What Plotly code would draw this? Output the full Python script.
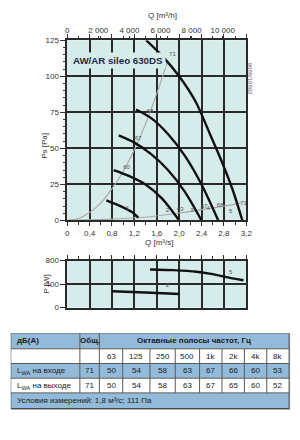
import plotly.graph_objects as go

# ---------------- data ----------------
# fan curves (Q [m3/s], Ps [Pa]) for speed steps 1..5
c1_q = [0.70, 0.95, 1.15, 1.27]
c1_ps = [14, 10, 6, 2]
c2_q = [0.83, 1.10, 1.40, 1.70, 2.00]
c2_ps = [35, 31, 25, 15, 0]
c3_q = [0.92, 1.20, 1.50, 1.80, 2.10, 2.40]
c3_ps = [59, 54, 46, 35, 20, 0]
c4_q = [1.23, 1.50, 1.80, 2.10, 2.40, 2.70]
c4_ps = [77, 71, 60, 45, 25, 0]
c5_q = [1.41, 1.70, 2.00, 2.30, 2.55, 2.75, 2.95, 3.13]
c5_ps = [125, 114, 100, 82, 60, 42, 22, 0]

# system curve (grey parabola)
sys_q = [0, 0.2, 0.4, 0.6, 0.8, 1.0, 1.2, 1.4, 1.6, 1.8]
sys_ps = [0, 1.4, 5.5, 12, 22, 34, 49, 67, 88, 111]
# grey line near bottom
low_q = [0, 0.8, 1.44, 2.0, 2.5, 3.1]
low_ps = [0.3, 1.0, 2.4, 5.2, 8.0, 12.0]

# labels on main chart
lab_text = ["1", "2", "63", "3", "67", "4", "68", "5", "71", "60", "67", "68", "71"]
lab_q = [1.08, 1.79, 2.02, 2.23, 2.45, 2.52, 2.73, 2.92, 3.15, 1.06, 1.27, 1.48, 1.88]
lab_ps = [8.2, 6.8, 7.5, 6.8, 9.5, 8.2, 10.2, 6.1, 11.5, 36.7, 57, 75.4, 114.8]

# power curves
p5_q = [1.48, 1.90, 2.31, 2.60, 2.89, 3.15]
p5_w = [650, 638, 612, 570, 511, 467]
p2_q = [0.80, 1.40, 2.00]
p2_w = [280, 258, 233]
plab_text = ["5", "2"]
plab_q = [2.92, 1.79]
plab_w = [600, 370]

# axis ticks
x_ticks = [0, 0.4, 0.8, 1.2, 1.6, 2.0, 2.4, 2.8, 3.2]
x_ticktext = ["0", "0,4", "0,8", "1,2", "1,6", "2,0", "2,4", "2,8", "3,2"]
top_ticks = [0, 2000, 4000, 6000, 8000, 10000]
top_ticktext = ["0", "2 000", "4 000", "6 000", "8 000", "10 000"]
ps_ticks = [0, 25, 50, 75, 100, 125]
p_ticks = [0, 400, 800]

# table
tbl_head = ["дБ(А)", "Общ.", "Октавные полосы частот, Гц"]
bands = ["63", "125", "250", "500", "1k", "2k", "4k", "8k"]
row_labels = ["L<sub>WA</sub> на входе", "L<sub>WA</sub> на выходе"]
totals = ["71", "71"]
inlet = [50, 54, 58, 63, 67, 66, 60, 53]
outlet = [50, 54, 58, 63, 67, 65, 60, 52]
conditions = "Условия измерений: 1,8 м³/с; 111 Па"

# ---------------- layout geometry ----------------
W, H = 300, 440
def px(x): return x / W
def py(y): return 1 - y / H

FONT = "Liberation Sans, Arial, sans-serif"
BG = "#d6ecea"
GRID = "#2a2a2a"
TXT = "#333333"
BLUE = "#93bad9"

fig = go.Figure()

curves = [(c1_q, c1_ps), (c2_q, c2_ps), (c3_q, c3_ps), (c4_q, c4_ps), (c5_q, c5_ps)]
fig.add_trace(go.Scatter(x=sys_q, y=sys_ps, mode="lines", line=dict(color="#a8a8a8", width=1.2, shape="spline"),
                         xaxis="x", yaxis="y", hoverinfo="skip"))
fig.add_trace(go.Scatter(x=low_q, y=low_ps, mode="lines", line=dict(color="#a8a8a8", width=1.2, shape="spline"),
                         xaxis="x", yaxis="y", hoverinfo="skip"))
for q, ps in curves:
    fig.add_trace(go.Scatter(x=q, y=ps, mode="lines",
                             line=dict(color="#111111", width=2.4, shape="spline", smoothing=0.8),
                             xaxis="x", yaxis="y", hoverinfo="skip"))
fig.add_trace(go.Scatter(x=lab_q, y=lab_ps, mode="text", text=lab_text,
                         textfont=dict(size=6, color="#555555", family=FONT),
                         xaxis="x", yaxis="y", hoverinfo="skip"))
# dummy on top axis
fig.add_trace(go.Scatter(x=[0, 11520], y=[None, None], mode="lines", xaxis="x2", yaxis="y", hoverinfo="skip"))

# power
for q, w in [(p5_q, p5_w), (p2_q, p2_w)]:
    fig.add_trace(go.Scatter(x=q, y=w, mode="lines",
                             line=dict(color="#111111", width=2.4, shape="spline", smoothing=0.6),
                             xaxis="x4", yaxis="y4", hoverinfo="skip"))
fig.add_trace(go.Scatter(x=plab_q, y=plab_w, mode="text", text=plab_text,
                         textfont=dict(size=6, color="#555555", family=FONT),
                         xaxis="x4", yaxis="y4", hoverinfo="skip"))

main_xd = [px(67), px(251)]
main_yd = [py(221), py(37)]
pow_yd = [py(310), py(262)]
tab_xd = [px(9), px(296)]
tab_yd = [py(414), py(336)]

tick_font = dict(size=8, color=TXT, family=FONT)

fig.update_layout(
    width=W, height=H, margin=dict(l=0, r=0, t=0, b=0),
    paper_bgcolor="white", plot_bgcolor=BG, showlegend=False,
    font=dict(family=FONT, color=TXT),
    xaxis=dict(domain=main_xd, range=[0, 3.2], anchor="y", tickvals=x_ticks, ticktext=x_ticktext,
               ticks="outside", ticklen=4, tickcolor=TXT, tickfont=tick_font,
               showgrid=True, gridcolor=GRID, gridwidth=1.5, showline=True, linecolor=GRID, linewidth=1.5,
               mirror="ticks", zeroline=False,
               minor=dict(dtick=0.2, tick0=0, ticks="outside", ticklen=2.5, tickcolor=TXT, showgrid=False)),
    xaxis2=dict(overlaying="x", side="top", anchor="y", range=[0, 11520], tickvals=top_ticks,
                ticktext=top_ticktext, ticks="outside", ticklen=3, tickcolor=TXT, tickfont=tick_font,
                showgrid=False, zeroline=False, showline=False),
    yaxis=dict(domain=main_yd, range=[0, 125], anchor="x", tickvals=ps_ticks, ticks="outside", ticklen=5,
               tickcolor=TXT, tickfont=tick_font, showgrid=True, gridcolor=GRID, gridwidth=1.5,
               showline=True, linecolor=GRID, linewidth=1.5, mirror=True, zeroline=False,
               minor=dict(dtick=5, tick0=0, ticks="outside", ticklen=2.5, tickcolor=TXT, showgrid=False)),
    xaxis4=dict(domain=main_xd, range=[0, 3.2], anchor="y4", side="top", tickvals=x_ticks,
                showticklabels=False, ticks="outside", ticklen=4, tickcolor=TXT,
                showgrid=True, gridcolor=GRID, gridwidth=1.5, showline=True, linecolor=GRID, linewidth=1.5,
                mirror=True, zeroline=False,
                minor=dict(dtick=0.2, tick0=0, ticks="outside", ticklen=2.5, tickcolor=TXT, showgrid=False)),
    yaxis4=dict(domain=pow_yd, range=[0, 800], anchor="x4", tickvals=p_ticks, ticks="outside", ticklen=5,
                tickcolor=TXT, tickfont=tick_font, showgrid=True, gridcolor=GRID, gridwidth=1.5,
                showline=True, linecolor=GRID, linewidth=1.5, mirror=True, zeroline=False),
    xaxis3=dict(domain=tab_xd, range=[9, 296], anchor="y3", visible=False, fixedrange=True),
    yaxis3=dict(domain=tab_yd, range=[414, 336], anchor="x3", visible=False, fixedrange=True),
)

# dummy trace so table axes exist
fig.add_trace(go.Scatter(x=[9], y=[336], mode="markers", marker=dict(size=1, opacity=0),
                         xaxis="x3", yaxis="y3", hoverinfo="skip"))

ann = []
ann.append(dict(text="<b>AW/AR sileo 630DS</b>", x=0.9, y=110.7, xref="x", yref="y", showarrow=False,
                bgcolor=BG, borderpad=2,
                font=dict(size=9.7, color="#1c2a48", family=FONT)))
ann.append(dict(text="Q [m³/h]", x=px(165), y=py(12), xref="paper", yref="paper", showarrow=False,
                yanchor="middle", font=dict(size=8, color=TXT, family=FONT)))
ann.append(dict(text="Q [m³/s]", x=px(161), y=py(243), xref="paper", yref="paper", showarrow=False,
                yanchor="middle", font=dict(size=8, color=TXT, family=FONT)))
ann.append(dict(text="Ps [Pa]", x=px(37), y=py(130), xref="paper", yref="paper", showarrow=False,
                textangle=-90, font=dict(size=8, color=TXT, family=FONT)))
ann.append(dict(text="P [W]", x=px(39), y=py(286), xref="paper", yref="paper", showarrow=False,
                textangle=-90, font=dict(size=8, color=TXT, family=FONT)))
ann.append(dict(text="9688/10892", x=px(260), y=py(58), xref="paper", yref="paper", showarrow=False,
                textangle=90, font=dict(size=6, color="#666666", family=FONT)))

# ---------------- table ----------------
col_edges = [9, 80, 100, 124, 152, 178, 203, 226, 249, 272, 295]
row_edges = [336, 352, 367, 382, 397, 413]
row_fill = [BLUE, "white", BLUE, "white", BLUE]
shapes = []
LC = "#5a5a5a"
for i in range(5):
    shapes.append(dict(type="rect", xref="x3", yref="y3", x0=col_edges[0], x1=col_edges[-1],
                       y0=row_edges[i], y1=row_edges[i + 1], fillcolor=row_fill[i], line=dict(width=0), layer="above"))
for r in row_edges[1:-1]:
    shapes.append(dict(type="line", xref="x3", yref="y3", x0=col_edges[0], x1=col_edges[-1], y0=r, y1=r,
                       line=dict(color=LC, width=1)))
for c in col_edges[1:3]:
    shapes.append(dict(type="line", xref="x3", yref="y3", x0=c, x1=c, y0=row_edges[0], y1=row_edges[1],
                       line=dict(color=LC, width=1)))
for c in col_edges[1:-1]:
    shapes.append(dict(type="line", xref="x3", yref="y3", x0=c, x1=c, y0=row_edges[1], y1=row_edges[4],
                       line=dict(color=LC, width=1)))
shapes.append(dict(type="rect", xref="x3", yref="y3", x0=col_edges[0], x1=col_edges[-1],
                   y0=row_edges[0], y1=row_edges[-1], line=dict(color="#444444", width=1)))
shapes.append(dict(type="line", xref="x3", yref="y3", x0=col_edges[-1] + 1, x1=col_edges[-1] + 1,
                   y0=row_edges[0] + 1, y1=row_edges[-1] + 1, line=dict(color="#777777", width=1.2)))
shapes.append(dict(type="line", xref="x3", yref="y3", x0=col_edges[0] + 1, x1=col_edges[-1] + 1,
                   y0=row_edges[-1] + 1, y1=row_edges[-1] + 1, line=dict(color="#777777", width=1.2)))

tf = dict(size=8, color="#1a1a1a", family=FONT)
def cell(text, c0, c1, r, align="center", bold=False):
    t = f"<b>{text}</b>" if bold else text
    ymid = (row_edges[r] + row_edges[r + 1]) / 2
    if align == "center":
        ann.append(dict(text=t, x=(c0 + c1) / 2, y=ymid, xref="x3", yref="y3", showarrow=False, font=tf,
                        xanchor="center", yanchor="middle"))
    else:
        ann.append(dict(text=t, x=c0 + 4, y=ymid, xref="x3", yref="y3", showarrow=False, font=tf,
                        xanchor="left", yanchor="middle"))

cell(tbl_head[0], col_edges[0], col_edges[1], 0, "left", True)
cell(tbl_head[1], col_edges[1], col_edges[2], 0, "center", True)
cell(tbl_head[2], col_edges[2], col_edges[-1], 0, "center", True)
for j, b in enumerate(bands):
    cell(b, col_edges[2 + j], col_edges[3 + j], 1)
for r, (lab, tot, vals) in enumerate(zip(row_labels, totals, [inlet, outlet])):
    cell(lab, col_edges[0], col_edges[1], 2 + r, "left")
    cell(tot, col_edges[1], col_edges[2], 2 + r)
    for j, v in enumerate(vals):
        cell(str(v), col_edges[2 + j], col_edges[3 + j], 2 + r)
cell(conditions, col_edges[0], col_edges[-1], 4, "left")

fig.update_layout(annotations=ann, shapes=shapes)
fig.write_html("out.html")
